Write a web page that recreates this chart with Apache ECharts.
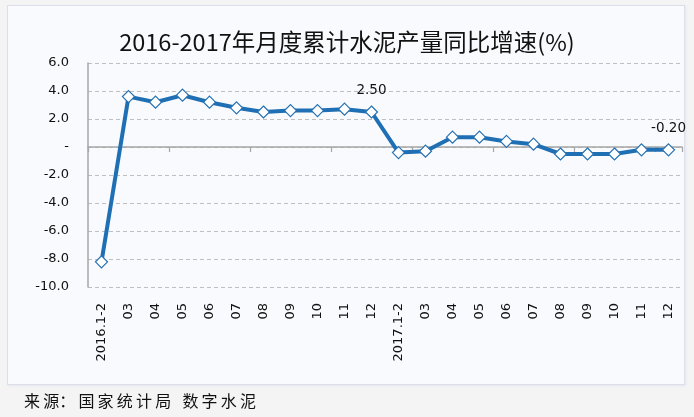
<!DOCTYPE html>
<html><head><meta charset="utf-8">
<script src="https://cdn.jsdelivr.net/npm/echarts@6/dist/echarts.min.js"></script>
<style>
html,body{margin:0;padding:0;background:#f4f4f5;}
#wrap{position:absolute;left:7px;top:5px;width:676px;height:378px;background:#f9fafe;border:1px solid #dcdfe9;box-shadow:1px 1px 2px #e4e6ef;}
#c{position:absolute;left:0;top:0;width:694px;height:417px;}
</style></head>
<body>
<div id="wrap"></div>
<div id="c"></div>
<script>
var categories = ['2016.1-2','03','04','05','06','07','08','09','10','11','12',
                  '2017.1-2','03','04','05','06','07','08','09','10','11','12'];
var growth = [-8.2,3.6,3.2,3.7,3.2,2.8,2.5,2.6,2.6,2.7,2.5,
              -0.4,-0.3,0.7,0.7,0.4,0.2,-0.5,-0.5,-0.5,-0.2,-0.2];
var labeledIdx = [10, 21];
var titleText = '2016-2017年月度累计水泥产量同比增速(%)';
var sourceText = '来\u2009源：\u2009国\u2009家\u2009统\u2009计\u2009局\u2002\u2009数\u2009字\u2009水\u2009泥';

var chart = echarts.init(document.getElementById('c'), null, {renderer:'canvas'});
var axisFont = 'DejaVu Sans';
chart.setOption({
  backgroundColor: 'transparent',
  animation: false,
  title: {
    text: titleText, left: 'center', top: 25,
    textStyle: {fontFamily: 'Noto Sans CJK SC', fontSize: 23.5, fontWeight: 'normal', color: '#111'}
  },
  graphic: [{
    type: 'text', left: 24, top: 393,
    style: {text: sourceText, font: '16px "Noto Sans CJK SC"', fill: '#111'}
  }],
  grid: {left: 88, right: 12, top: 63, bottom: 130},
  xAxis: [{
    type: 'category', data: categories, boundaryGap: true,
    axisLine: {onZero: true, lineStyle: {color: '#a6a6a6', width: 1.5}},
    axisTick: {show: true, length: 5, lineStyle: {color: '#a6a6a6', width: 1.2}},
    axisLabel: {show: false},
    splitLine: {show: false}
  }, {
    type: 'category', data: categories, boundaryGap: true, position: 'bottom',
    axisLine: {show: false, onZero: false},
    axisTick: {show: false},
    axisLabel: {rotate: 90, interval: 0, margin: 16, color: '#111', fontFamily: axisFont, fontSize: 13}
  }],
  yAxis: {
    type: 'value', min: -10, max: 6, interval: 2,
    axisLine: {show: true, lineStyle: {color: '#a6a6a6', width: 1.5}},
    axisTick: {show: false},
    splitLine: {show: true, lineStyle: {color: '#bfbfbf', type: [4, 3], width: 1}},
    axisLabel: {
      margin: 19, color: '#111', fontFamily: axisFont, fontSize: 13,
      formatter: function (v) { return v === 0 ? '-' : v.toFixed(1); }
    }
  },
  series: [{
    type: 'line', xAxisIndex: 0, data: growth.map(function (v, i) {
      var d = {value: v};
      if (labeledIdx.indexOf(i) >= 0) d.label = {show: true};
      return d;
    }),
    symbol: 'diamond', symbolSize: 12,
    lineStyle: {color: '#1f6fb4', width: 4},
    itemStyle: {color: '#ffffff', borderColor: '#2470b3', borderWidth: 1.2},
    label: {
      show: false, position: 'top', distance: 8, color: '#111',
      fontFamily: axisFont, fontSize: 13.5,
      formatter: function (p) { return p.value.toFixed(2); }
    }
  }]
});
</script>
</body></html>
